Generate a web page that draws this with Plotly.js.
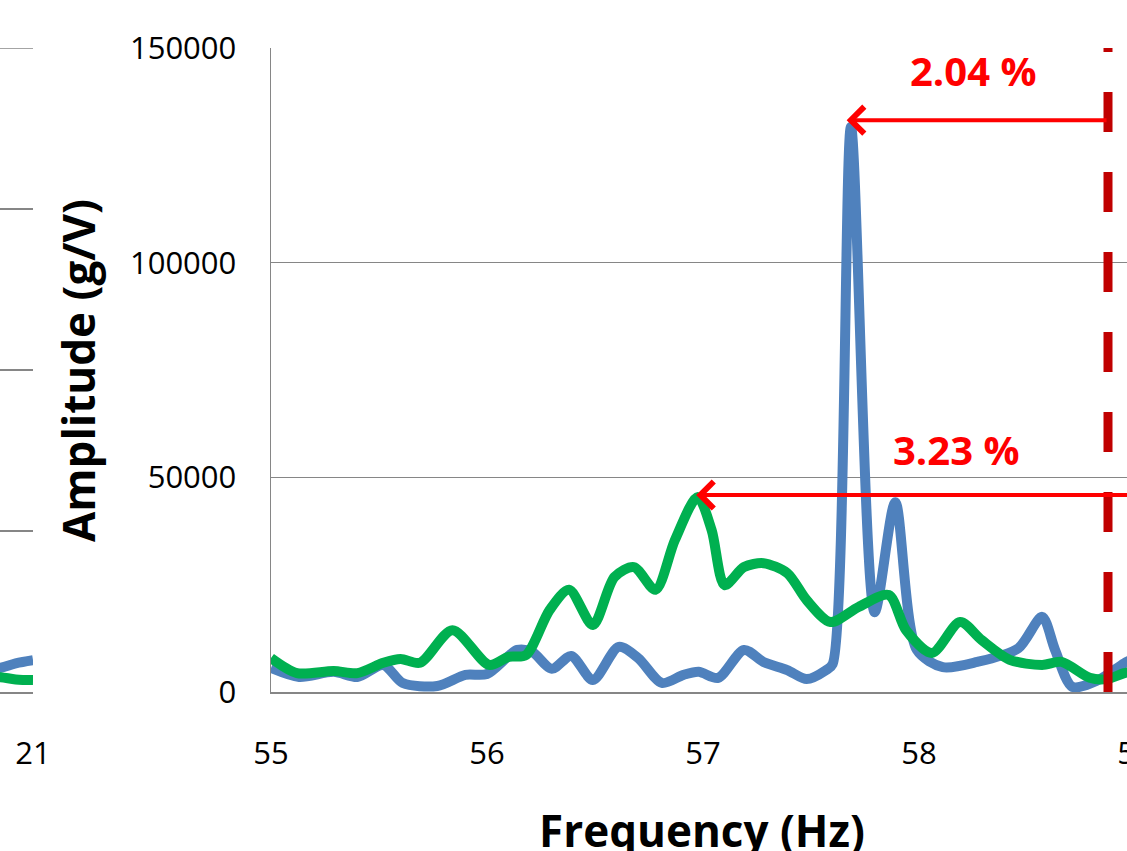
<!DOCTYPE html>
<html>
<head>
<meta charset="utf-8">
<script src="https://cdn.plot.ly/plotly-3.0.1.min.js"></script>
<style>
html,body{margin:0;padding:0;overflow:hidden;background:#fff;width:1127px;height:851px;}
#chart{position:absolute;left:-300px;top:-60px;width:1527px;height:951px;}
</style>
</head>
<body>
<div id="chart"></div>
<script>
// ---- data ----
const blueFreq = [55.00, 55.13, 55.29, 55.40, 55.52, 55.61, 55.77, 55.90, 56.00, 56.14, 56.21, 56.30, 56.39, 56.49, 56.61, 56.70, 56.81, 56.91, 56.98, 57.07, 57.19, 57.28, 57.39, 57.48, 57.57, 57.60, 57.685, 57.795, 57.89, 57.99, 58.11, 58.27, 58.46, 58.57, 58.63, 58.71, 58.83, 58.95, 59.0];
const blueAmp  = [5600, 3500, 4700, 3500, 6300, 2100, 1400, 4000, 4200, 9800, 9300, 5400, 8400, 2800, 10500, 7900, 2100, 4000, 4700, 3300, 9800, 7000, 5100, 3000, 5100, 6500, 131600, 18600, 44200, 9800, 5800, 7000, 10200, 17500, 9800, 1200, 2800, 6700, 8000];
const greenFreq = [55.00, 55.12, 55.29, 55.40, 55.52, 55.60, 55.69, 55.84, 56.01, 56.10, 56.18, 56.29, 56.38, 56.49, 56.59, 56.68, 56.78, 56.87, 56.975, 57.04, 57.10, 57.19, 57.28, 57.39, 57.48, 57.59, 57.72, 57.86, 57.94, 58.06, 58.19, 58.29, 58.42, 58.57, 58.66, 58.79, 58.87, 58.95, 59.0];
const greenAmp  = [7900, 4400, 4900, 4400, 6800, 7700, 6800, 14400, 6300, 8200, 8600, 19100, 23800, 15600, 26800, 29100, 23800, 35400, 45400, 37700, 24900, 29100, 30000, 27700, 21400, 16300, 19800, 22600, 14400, 9100, 16300, 12100, 7500, 6300, 7000, 3300, 3000, 4400, 5000];

// partially visible neighbouring chart (left)
const leftFreq  = [20.70, 20.78, 20.85, 20.92, 21.00];
const leftBlue  = [6800, 7000, 7500, 8900, 9900];
const leftGreen = [5000, 4800, 4600, 3900, 3700];

const xTicks = [55, 56, 57, 58, 59];
const yTicks = [0, 50000, 100000, 150000];
const leftXTicks = [20, 21];
const leftYTicks = [0, 50000, 100000, 150000, 200000];

const refFreq = 58.875;            // dashed reference line
const peakBlue = {f: 57.665, a: 133200, label: "2.04 %", lf: 58.252, la: 144800};
const peakGreen = {f: 56.968, a: 45880, label: "3.23 %", lf: 58.173, la: 56400};

// ---- layout helpers (page pixel -> paper) ----
const W = 1527, H = 951, OX = 300, OY = 60;
const px = p => (p + OX) / W;
const py = p => 1 - (p + OY) / H;

const FONT = "'Open Sans', sans-serif";
const GRID = "#868686";

const traces = [
  {x: blueFreq, y: blueAmp, xaxis: "x", yaxis: "y", mode: "lines",
   line: {color: "#4F81BD", width: 10, shape: "spline", smoothing: 0.8}, hoverinfo: "skip"},
  {x: greenFreq, y: greenAmp, xaxis: "x", yaxis: "y", mode: "lines",
   line: {color: "#00B050", width: 10, shape: "spline", smoothing: 0.8}, hoverinfo: "skip"},
  {x: leftFreq, y: leftBlue, xaxis: "x2", yaxis: "y2", mode: "lines",
   line: {color: "#4F81BD", width: 10, shape: "spline"}, hoverinfo: "skip"},
  {x: leftFreq, y: leftGreen, xaxis: "x2", yaxis: "y2", mode: "lines",
   line: {color: "#00B050", width: 10, shape: "spline"}, hoverinfo: "skip"}
];

const layout = {
  width: W, height: H,
  margin: {l: 0, r: 0, t: 0, b: 0},
  paper_bgcolor: "#fff", plot_bgcolor: "#fff",
  showlegend: false,
  font: {family: FONT, color: "#000", size: 31},
  xaxis: {
    domain: [px(271), px(1135)], range: [55, 59], tickvals: xTicks,
    showgrid: false, zeroline: false, showline: true, linecolor: GRID, linewidth: 1.5,
    ticks: "", ticklabelstandoff: 33, tickfont: {size: 31, family: FONT}, anchor: "y"
  },
  yaxis: {
    domain: [py(692), py(48)], range: [0, 150000], tickvals: yTicks, tickformat: "d",
    showgrid: true, gridcolor: GRID, gridwidth: 1.5, zeroline: false,
    showline: true, linecolor: GRID, linewidth: 1.5,
    ticks: "", ticklabelstandoff: 27, tickfont: {size: 31, family: FONT}, anchor: "x"
  },
  xaxis2: {
    domain: [0, px(33)], range: [21 - 333 / 216.5, 21], tickvals: leftXTicks,
    showgrid: false, zeroline: false, showline: true, linecolor: GRID, linewidth: 1.5,
    ticks: "", ticklabelstandoff: 33, tickfont: {size: 31, family: FONT}, anchor: "y2"
  },
  yaxis2: {
    domain: [py(692), py(48)], range: [0, 200000], tickvals: leftYTicks,
    showgrid: true, gridcolor: GRID, gridwidth: 1.5, zeroline: false,
    showline: false, showticklabels: false, ticks: "", anchor: "x2"
  },
  shapes: [
    {type: "line", xref: "x", yref: "y", x0: refFreq, x1: refFreq, y0: 0, y1: 150000,
     line: {color: "#C00000", width: 9, dash: "40px,40px"}},
    {type: "line", xref: "x2", yref: "y2", x0: 19.5, x1: 21, y0: 200000, y1: 200000,
     line: {color: GRID, width: 1.5}}
  ],
  annotations: [
    {xref: "x", yref: "y", axref: "x", ayref: "y", x: peakBlue.f, y: peakBlue.a,
     ax: refFreq, ay: peakBlue.a, text: "", showarrow: true, arrowhead: 4,
     arrowsize: 1.3, arrowwidth: 4, arrowcolor: "#FF0000", standoff: 0, startstandoff: 0},
    {xref: "x", yref: "y", axref: "x", ayref: "y", x: peakGreen.f, y: peakGreen.a,
     ax: 59.4, ay: peakGreen.a, text: "", showarrow: true, arrowhead: 4,
     arrowsize: 1.3, arrowwidth: 4, arrowcolor: "#FF0000", standoff: 0, startstandoff: 0},
    {xref: "x", yref: "y", x: peakBlue.lf, y: peakBlue.la, text: "<b>" + peakBlue.label + "</b>",
     xanchor: "center", yanchor: "middle",
     showarrow: false, font: {size: 40, color: "#FF0000", family: FONT}},
    {xref: "x", yref: "y", x: peakGreen.lf, y: peakGreen.la, text: "<b>" + peakGreen.label + "</b>",
     xanchor: "center", yanchor: "middle",
     showarrow: false, font: {size: 40, color: "#FF0000", family: FONT}},
    {xref: "paper", yref: "paper", x: px(78), y: py(371), xanchor: "center", yanchor: "middle",
     text: "<b>Amplitude (g/V)</b>",
     textangle: -90, showarrow: false, font: {size: 44, family: FONT, color: "#000"}},
    {xref: "paper", yref: "paper", x: px(702), y: py(830), xanchor: "center", yanchor: "middle",
     text: "<b>Frequency (Hz)</b>",
     showarrow: false, font: {size: 44, family: FONT, color: "#000"}}
  ]
};

Plotly.newPlot("chart", traces, layout, {staticPlot: true, displayModeBar: false});
</script>
</body>
</html>
